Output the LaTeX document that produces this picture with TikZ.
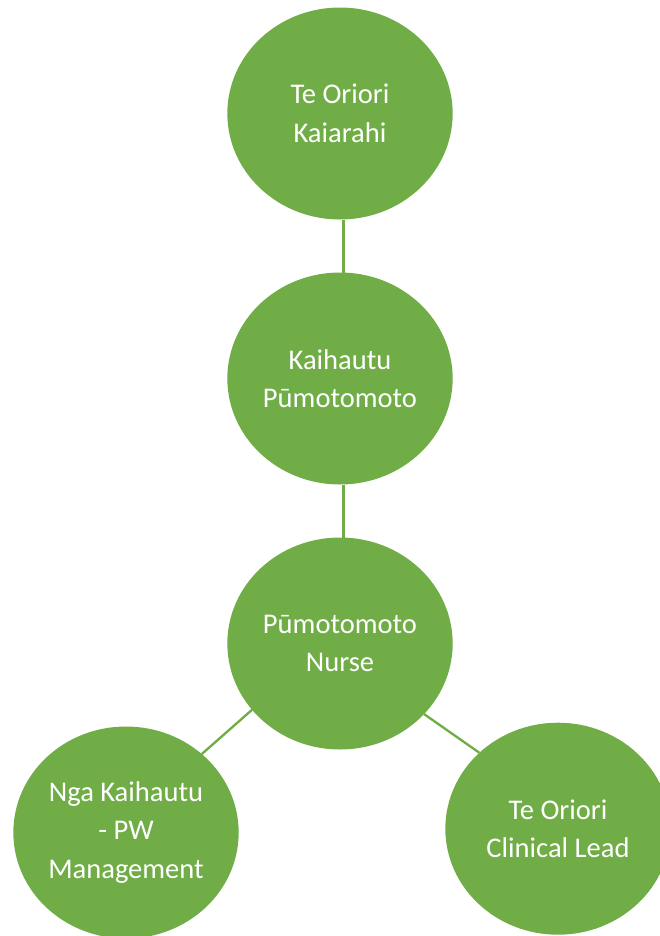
\documentclass[tikz,border=0pt]{standalone}
\usepackage{fontspec}
\setmainfont{Carlito}
\usetikzlibrary{shapes.geometric}
\definecolor{ogreen}{HTML}{70AD47}
\begin{document}
\begin{tikzpicture}[x=0.75pt,y=-0.75pt,
  role/.style={ellipse, fill=ogreen, text=white, minimum width=169pt, minimum height=159pt,
    inner sep=0pt, outer sep=0pt, align=center, font=\fontsize{21.4}{28.9}\selectfont},
  link/.style={draw=ogreen, line width=1.75pt}]
\useasboundingbox (0,0) rectangle (660,936);
\node[role] (top) at (340,113.5) {Te Oriori\\Kaiarahi};
\node[role] (mid) at (340,378.5) {Kaihautu\\Pūmotomoto};
\node[role] (nurse) at (340,643.5) {Pūmotomoto\\Nurse};
\node[role] (bl) at (126,832.5) {Nga Kaihautu\\- PW\\Management};
\node[role] (br) at (558,828.7) {Te Oriori\\Clinical Lead};
\draw[link] ([xshift=2.6pt]top.south) -- ([xshift=2.6pt]mid.north);
\draw[link] ([xshift=2.6pt]mid.south) -- ([xshift=2.6pt]nurse.north);
\draw[link] (nurse.217.9) -- (bl.46.5);
\draw[link] (nurse.320.7) -- (br.136.8);
\end{tikzpicture}
\end{document}
